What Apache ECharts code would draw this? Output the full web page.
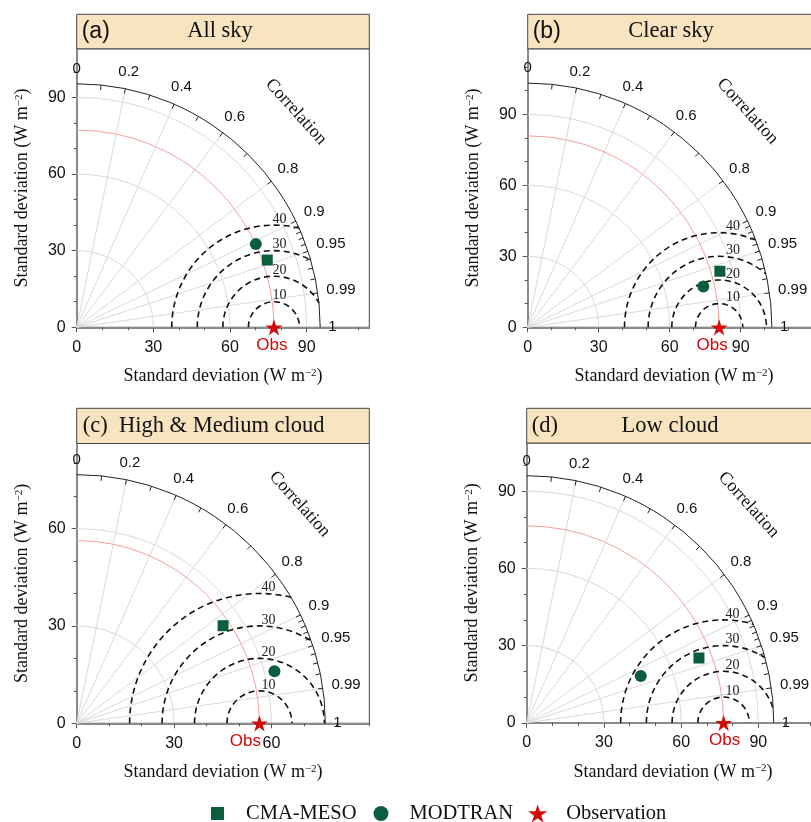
<!DOCTYPE html>
<html>
<head>
<meta charset="utf-8">
<script src="https://cdn.jsdelivr.net/npm/echarts@6/dist/echarts.min.js"></script>
<style>
  html, body { margin: 0; padding: 0; background: #fff; overflow: hidden; }
  #chart { width: 840px; height: 822px; }
</style>
</head>
<body>
<div id="chart"></div>
<script>
// Taylor diagrams: standard deviation vs. correlation for four sky conditions

// ---- data ----
const panelTags = ['(a)', '(b)', '(c)', '(d)'];
const panelTitles = ['All sky', 'Clear sky', 'High & Medium cloud', 'Low cloud'];
const obsStd = [77.2, 80.9, 56.3, 76.5];          // observed standard deviation (W m-2)
const cmaStd = [79.1, 84.6, 54.2, 71.5];          // CMA-MESO standard deviation
const cmaCorr = [0.943, 0.960, 0.832, 0.936];     // CMA-MESO correlation
const modStd = [77.3, 76.2, 63.0, 47.9];          // MODTRAN standard deviation
const modCorr = [0.907, 0.974, 0.967, 0.925];     // MODTRAN correlation
const outerStd = [95.3, 103.2, 76.6, 96.0];       // radius of the outer correlation arc
const corrLabels = [0, 0.2, 0.4, 0.6, 0.8, 0.9, 0.95, 0.99, 1];
const corrLines = [0.2, 0.4, 0.6, 0.8, 0.9, 0.95, 0.99];
const corrTicks = [0.1, 0.2, 0.3, 0.4, 0.5, 0.6, 0.7, 0.8, 0.9,
                   0.91, 0.92, 0.93, 0.94, 0.95, 0.96, 0.97, 0.98, 0.99];
const rmsLevels = [10, 20, 30, 40];
const stdRings = [30, 60, 90];
const majorStep = 30;
const minorStep = 10;

// ---- layout & style ----
const SANS = '"Liberation Sans", Arial, sans-serif';
const SERIF = '"Liberation Serif", "Times New Roman", serif';
const GREEN = '#0b5e3d';
const RED = '#d10a0a';
const GRID_W = 292.6;
const layout = [
  { left: 76.7,  top: 48.8,  h: 278.5, yMax: 109.0, titleTop: 14.3,  tagFont: SANS,  rmsDx: 5.5, obsDx: -2 },
  { left: 527.7, top: 48.8,  h: 278.5, yMax: 117.7, titleTop: 14.3,  tagFont: SANS,  rmsDx: 14,  obsDx: -7 },
  { left: 76.7,  top: 443.5, h: 279.8, yMax: 86.2,  titleTop: 408.3, tagFont: SERIF, rmsDx: 9,   obsDx: -14, inline: true },
  { left: 526.7, top: 443.0, h: 279.8, yMax: 108.7, titleTop: 408.3, tagFont: SERIF, rmsDx: 9,   obsDx: 1 }
];

const STAR = 'path://M50,0L61.2,34.5L97.6,34.5L68.2,55.9L79.4,90.5L50,69.1L20.6,90.5L31.8,55.9L2.4,34.5L38.8,34.5Z';
const STAR_ICON = STAR;
const SQUARE_ICON = 'path://M0,0M19,19M3,3h13v13h-13z';
const CIRCLE_ICON = 'path://M0,0M19,19M2,9.5a7.5,7.5,0,1,0,15,0a7.5,7.5,0,1,0,-15,0z';

const measureCtx = document.createElement('canvas').getContext('2d');
measureCtx.font = '15px "Liberation Sans"';

function polarXY(std, c) {
  return [std * c, std * Math.sqrt(Math.max(0, 1 - c * c))];
}

function arcEl(center, r, a0, a1, style) {
  return {
    type: 'arc',
    shape: { cx: center[0], cy: center[1], r: r, startAngle: a0, endAngle: a1, clockwise: true },
    style: Object.assign({ fill: null }, style),
    silent: true
  };
}

function stepValues(step, max, keep) {
  const out = [];
  for (let v = 0; v <= max + 1e-9; v += step) if (keep(v)) out.push(Math.round(v));
  return out;
}

const axisName = '{t|Standard deviation (W m}{s|\u22122}{t|)}';
const axisNameStyle = {
  rich: {
    t: { fontFamily: SERIF, fontSize: 18, color: '#111' },
    s: { fontFamily: SERIF, fontSize: 11, color: '#111', verticalAlign: 'top' }
  }
};

// decorative geometry of one diagram: std rings, correlation rays, RMS arcs, labels
function makeDecor(i) {
  const R = outerStd[i];
  const obs = obsStd[i];
  const L = layout[i];
  return function (params, api) {
    const o = api.coord([0, 0]);
    const k = api.size([1, 0])[0];
    const kids = [];
    const GRAY = '#dadada';

    stdRings.filter(s => s < R).forEach(s => {
      kids.push(arcEl(o, s * k, -Math.PI / 2, 0, { stroke: GRAY, lineWidth: 1 }));
    });
    corrLines.forEach(c => {
      const p = api.coord(polarXY(R, c));
      kids.push({ type: 'line', silent: true,
        shape: { x1: o[0], y1: o[1], x2: p[0], y2: p[1] },
        style: { stroke: GRAY, lineWidth: 1 } });
    });
    kids.push(arcEl(o, obs * k, -Math.PI / 2, 0, { stroke: '#f5a0a0', lineWidth: 1 }));

    // centred RMS difference arcs, clipped at the outer arc
    const c0 = api.coord([obs, 0]);
    rmsLevels.forEach(r => {
      const q = (R * R - obs * obs - r * r) / (2 * obs * r);
      const phi = q >= 1 ? 0 : Math.acos(Math.max(-1, q));
      kids.push(arcEl(c0, r * k, -Math.PI, -phi, { stroke: '#111', lineWidth: 1.6, lineDash: [6, 4] }));
      kids.push({ type: 'text', silent: true, x: c0[0] + L.rmsDx, y: c0[1] - r * k + 1,
        style: { text: String(r), fontFamily: SERIF, fontSize: 14, fill: '#222',
                 align: 'center', verticalAlign: 'bottom' } });
    });

    // outer correlation arc with inward ticks
    kids.push(arcEl(o, R * k, -Math.PI / 2, 0, { stroke: '#222', lineWidth: 1 }));
    corrTicks.forEach(c => {
      const s = Math.sqrt(1 - c * c);
      const p = api.coord(polarXY(R, c));
      kids.push({ type: 'line', silent: true,
        shape: { x1: p[0], y1: p[1], x2: p[0] - 5 * c, y2: p[1] + 5 * s },
        style: { stroke: '#222', lineWidth: 1 } });
    });
    corrLabels.forEach(c => {
      const txt = String(c);
      const w = measureCtx.measureText(txt).width;
      const s = Math.sqrt(1 - c * c);
      const d = R * k + 8 + (w / 2) * c + 7 * s;
      kids.push({ type: 'text', silent: true, x: o[0] + d * c, y: o[1] - d * s,
        style: { text: txt, fontFamily: SANS, fontSize: 15, fill: '#111',
                 align: 'center', verticalAlign: 'middle' } });
    });
    const ang = 44.5 * Math.PI / 180;
    const dc = R * k + 64;
    kids.push({ type: 'text', silent: true,
      x: o[0] + dc * Math.cos(ang), y: o[1] - dc * Math.sin(ang), rotation: -48 * Math.PI / 180,
      style: { text: 'Correlation', fontFamily: SERIF, fontSize: 18, fill: '#111',
               align: 'center', verticalAlign: 'middle' } });

    return { type: 'group', children: kids };
  };
}

const grids = [], xAxes = [], yAxes = [], series = [], graphics = [];

layout.forEach((L, i) => {
  const yMax = L.yMax;
  const xMax = yMax * GRID_W / L.h;
  const R = outerStd[i];
  grids.push({ left: L.left, top: L.top, width: GRID_W, height: L.h,
               show: true, borderColor: '#444', borderWidth: 1 });

  const majorsX = stepValues(majorStep, R, () => true);
  const minorsX = stepValues(minorStep, xMax, v => v % majorStep !== 0 || v > R);
  const majorsY = stepValues(majorStep, R, () => true);
  const minorsY = stepValues(minorStep, yMax, v => v % majorStep !== 0 || v > R);

  xAxes.push({
    type: 'value', gridIndex: i, min: 0, max: xMax, position: 'bottom',
    axisLine: { show: true, onZero: false, lineStyle: { color: '#8a8a8a', width: 2 } },
    axisTick: { show: true, length: 5, customValues: majorsX, lineStyle: { color: '#555', width: 1 } },
    axisLabel: { show: true, customValues: majorsX, margin: 12, fontFamily: SANS, fontSize: 16, color: '#111' },
    splitLine: { show: false },
    name: axisName, nameLocation: 'middle', nameGap: 40, nameTextStyle: axisNameStyle
  });
  xAxes.push({
    type: 'value', gridIndex: i, min: 0, max: xMax, position: 'bottom',
    axisLine: { show: false },
    axisTick: { show: true, length: 3, customValues: minorsX, lineStyle: { color: '#555', width: 1 } },
    axisLabel: { show: false }, splitLine: { show: false }
  });
  yAxes.push({
    type: 'value', gridIndex: i, min: 0, max: yMax, position: 'left',
    axisLine: { show: true, onZero: false, lineStyle: { color: '#8a8a8a', width: 2 } },
    axisTick: { show: true, length: 5, customValues: majorsY, lineStyle: { color: '#555', width: 1 } },
    axisLabel: { show: true, customValues: majorsY, margin: 11, fontFamily: SANS, fontSize: 16, color: '#111' },
    splitLine: { show: false },
    name: axisName, nameLocation: 'middle', nameGap: 45, nameTextStyle: axisNameStyle
  });
  yAxes.push({
    type: 'value', gridIndex: i, min: 0, max: yMax, position: 'left',
    axisLine: { show: false },
    axisTick: { show: true, length: 3, customValues: minorsY, lineStyle: { color: '#555', width: 1 } },
    axisLabel: { show: false }, splitLine: { show: false }
  });

  const xi = 2 * i, yi = 2 * i;
  series.push({
    type: 'custom', xAxisIndex: xi, yAxisIndex: yi, silent: true, z: 1,
    renderItem: makeDecor(i), data: [[0, 0]]
  });
  series.push({
    name: 'CMA-MESO', type: 'scatter', xAxisIndex: xi, yAxisIndex: yi, z: 4,
    symbol: 'rect', symbolSize: 11, itemStyle: { color: GREEN, opacity: 1 },
    data: [polarXY(cmaStd[i], cmaCorr[i])]
  });
  series.push({
    name: 'MODTRAN', type: 'scatter', xAxisIndex: xi, yAxisIndex: yi, z: 4,
    symbol: 'circle', symbolSize: 12, itemStyle: { color: GREEN, opacity: 1 },
    data: [polarXY(modStd[i], modCorr[i])]
  });
  series.push({
    name: 'Observation', type: 'scatter', xAxisIndex: xi, yAxisIndex: yi, z: 5,
    symbol: STAR, symbolSize: 17, symbolKeepAspect: true, itemStyle: { color: RED, opacity: 1 },
    label: { show: true, formatter: 'Obs', position: 'bottom', distance: 1, offset: [L.obsDx, 0],
             color: RED, fontFamily: SANS, fontSize: 17 },
    data: [[obsStd[i], 0]]
  });

  // title strip above each diagram
  const th = L.top - L.titleTop;
  const cy = L.titleTop + th / 2;
  graphics.push({ type: 'rect', silent: true, z: 10,
    shape: { x: L.left, y: L.titleTop, width: GRID_W, height: th },
    style: { fill: '#f8e5c0', stroke: '#444', lineWidth: 1 } });
  if (L.inline) {
    graphics.push({ type: 'text', silent: true, z: 11, x: L.left + 6, y: cy,
      style: { text: panelTags[i] + '  ' + panelTitles[i], fontFamily: SERIF, fontSize: 22.5,
               fill: '#111', align: 'left', verticalAlign: 'middle' } });
  } else {
    graphics.push({ type: 'text', silent: true, z: 11, x: L.left + 5, y: cy,
      style: { text: panelTags[i], fontFamily: L.tagFont, fontSize: L.tagFont === SANS ? 23 : 22.5,
               fill: '#111', align: 'left', verticalAlign: 'middle' } });
    graphics.push({ type: 'text', silent: true, z: 11, x: L.left + GRID_W / 2 - 3, y: cy,
      style: { text: panelTitles[i], fontFamily: SERIF, fontSize: 22.5,
               fill: '#111', align: 'center', verticalAlign: 'middle' } });
  }
});

const chart = echarts.init(document.getElementById('chart'), null, { renderer: 'canvas' });
chart.setOption({
  animation: false,
  backgroundColor: '#fff',
  grid: grids,
  xAxis: xAxes,
  yAxis: yAxes,
  legend: {
    left: 203, top: 798, itemWidth: 19, itemHeight: 19, itemGap: 15,
    symbolKeepAspect: true, selectedMode: false,
    textStyle: { fontFamily: SERIF, fontSize: 20.5, color: '#111', padding: [0, 0, 0, 14] },
    data: [
      { name: 'CMA-MESO', icon: SQUARE_ICON },
      { name: 'MODTRAN', icon: CIRCLE_ICON },
      { name: 'Observation', icon: STAR_ICON }
    ]
  },
  series: series,
  graphic: graphics
});
</script>
</body>
</html>
